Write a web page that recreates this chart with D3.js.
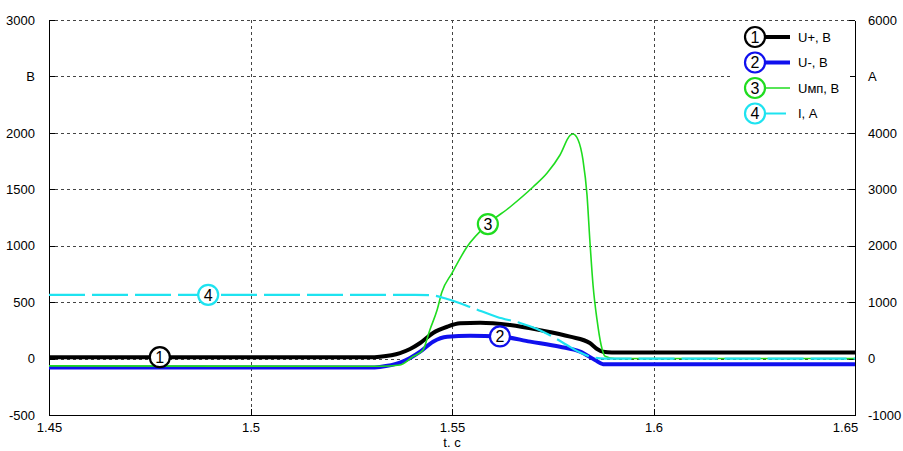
<!DOCTYPE html>
<html>
<head>
<meta charset="utf-8">
<script src="https://cdn.jsdelivr.net/npm/d3@7"></script>
<style>
  body { margin: 0; background: #fff; }
  svg text { font-family: "Liberation Sans", Arial, sans-serif; }
</style>
</head>
<body>
<svg id="chart" width="903" height="451"></svg>
<script>
// ticks
const tTicks = [1.45, 1.5, 1.55, 1.6, 1.65];
const vTicks = [-500, 0, 500, 1000, 1500, 2000, 2500, 3000];
const aTicks = [-1000, 0, 1000, 2000, 3000, 4000, 5000, 6000];

// U+, В
const uPlusT = [1.45, 1.5297, 1.5321, 1.5371, 1.5396, 1.5421, 1.5453, 1.5488, 1.552, 1.557, 1.5644, 1.5718, 1.5793, 1.5842, 1.586, 1.5875, 1.5897, 1.65];
const uPlusV = [12, 12, 17, 49, 85, 138, 227, 282, 312, 318, 297, 252, 194, 138, 85, 61, 54, 53];
// U-, В
const uMinusT = [1.45, 1.5297, 1.5321, 1.5371, 1.5396, 1.5421, 1.5453, 1.5488, 1.5545, 1.5619, 1.5694, 1.5768, 1.5818, 1.5855, 1.5875, 1.65];
const uMinusV = [-80, -80, -74, -36, 5, 61, 150, 194, 203, 196, 150, 105, 61, -13, -50, -51];
// Uмп, В
const uMpT = [1.45, 1.5321, 1.5371, 1.5403, 1.5428, 1.5445, 1.5463, 1.5475, 1.55, 1.5537, 1.5589, 1.5644, 1.5701, 1.5736, 1.5768, 1.5793, 1.58, 1.5813, 1.5825, 1.5835, 1.5842, 1.585, 1.586, 1.587, 1.588, 1.5904, 1.65];
const uMpV = [-65, -68, -57, 17, 76, 254, 430, 590, 758, 988, 1192, 1343, 1520, 1644, 1804, 1977, 1990, 1937, 1760, 1450, 1051, 650, 340, 120, 20, 0, 0];
// I, А
const iT = [1.45, 1.5408, 1.5453, 1.5488, 1.5552, 1.5612, 1.5669, 1.5711, 1.5751, 1.5785, 1.5818, 1.585, 1.588, 1.65];
const iA = [1130, 1130, 1118, 1056, 896, 737, 630, 524, 382, 240, 107, 20, 0, 0];

const legendNames = ['U+, В', 'U-, В', 'Uмп, В', 'I, А'];
// where the circled numbers sit on each curve
const markT = [1.4775, 1.5619, 1.5589, 1.4895];

const svg = d3.select('#chart');
const margin = {top: 20, right: 48, bottom: 36, left: 49};
const width = +svg.attr('width');
const height = +svg.attr('height');
const innerW = width - margin.left - margin.right;
const innerH = height - margin.top - margin.bottom;

const x = d3.scaleLinear().domain([1.45, 1.65]).range([margin.left, margin.left + innerW]);
const yV = d3.scaleLinear().domain([-500, 3000]).range([margin.top + innerH, margin.top]);
const yA = d3.scaleLinear().domain([-1000, 6000]).range([margin.top + innerH, margin.top]);

// grid
const grid = svg.append('g')
  .attr('stroke', '#444')
  .attr('stroke-width', 1)
  .attr('stroke-dasharray', '3,3')
  .attr('shape-rendering', 'crispEdges');
grid.selectAll('.hg').data(vTicks.filter(d => d > -500)).enter().append('line')
  .attr('x1', x(1.45)).attr('x2', x(1.65))
  .attr('y1', d => Math.round(yV(d)) + 0.5).attr('y2', d => Math.round(yV(d)) + 0.5);
grid.selectAll('.vg').data(tTicks.slice(1, -1)).enter().append('line')
  .attr('x1', d => Math.round(x(d)) + 0.5).attr('x2', d => Math.round(x(d)) + 0.5)
  .attr('y1', yV(3000)).attr('y2', yV(-500));

// axes
const styleAxis = g => {
  g.selectAll('text').attr('font-size', 13).attr('font-family', '"Liberation Sans", Arial, sans-serif').attr('fill', '#000');
  g.selectAll('line').attr('stroke', '#000');
  g.select('.domain').attr('stroke', '#000');
  g.attr('shape-rendering', 'crispEdges');
};

const axisV = d3.axisLeft(yV).tickValues(vTicks)
  .tickSizeInner(-6).tickSizeOuter(0).tickPadding(14)
  .tickFormat(d => d === 2500 ? 'В' : d);
svg.append('g').attr('transform', `translate(${margin.left},0)`).call(axisV).call(styleAxis);

const axisA = d3.axisRight(yA).tickValues(aTicks)
  .tickSizeInner(-6).tickSizeOuter(0).tickPadding(13)
  .tickFormat(d => d === 5000 ? 'А' : d);
svg.append('g').attr('transform', `translate(${margin.left + innerW},0)`).call(axisA).call(styleAxis);

const axisT = d3.axisBottom(x).tickValues(tTicks)
  .tickSizeInner(-6).tickSizeOuter(0).tickPadding(8)
  .tickFormat(d => d);
const tAxisG = svg.append('g').attr('transform', `translate(0,${margin.top + innerH})`).call(axisT).call(styleAxis);
// last label is pulled left so it does not run into the right axis labels
tAxisG.selectAll('.tick text').filter(d => d === 1.65).attr('dx', -10);

svg.append('text')
  .attr('x', x(1.55)).attr('y', 447)
  .attr('text-anchor', 'middle').attr('font-size', 13)
  .text('t. с');

// curves
const series = [
  {t: uPlusT, v: uPlusV, y: yV, color: '#000000', w: 4, dash: null},
  {t: uMinusT, v: uMinusV, y: yV, color: '#1010ee', w: 4, dash: null},
  {t: uMpT, v: uMpV, y: yV, color: '#1fdc1f', w: 1.6, dash: null},
  {t: iT, v: iA, y: yA, color: '#1ee3f0', w: 2.2, dash: '36,7'}
];

series.forEach(s => {
  const pts = s.t.map((t, i) => [t, s.v[i]]);
  const line = d3.line().x(d => x(d[0])).y(d => s.y(d[1])).curve(d3.curveMonotoneX);
  svg.append('path')
    .datum(pts)
    .attr('d', line)
    .attr('fill', 'none')
    .attr('stroke', s.color)
    .attr('stroke-width', s.w)
    .attr('stroke-dasharray', s.dash);
});

// circled numbers on the curves
series.forEach((s, i) => {
  const val = d3.scaleLinear().domain(s.t).range(s.v)(markT[i]);
  const g = svg.append('g').attr('transform', `translate(${x(markT[i])},${s.y(val)})`);
  g.append('circle').attr('r', 10).attr('fill', '#fff').attr('stroke', s.color).attr('stroke-width', 2.2);
  g.append('text').attr('text-anchor', 'middle').attr('dy', '0.36em').attr('font-size', 16).text(i + 1);
});

// legend
const legend = svg.append('g');
legend.append('rect').attr('x', 733).attr('y', 23).attr('width', 117).attr('height', 104).attr('fill', '#fff');
series.forEach((s, i) => {
  const cy = 37 + i * 25.5;
  legend.append('line')
    .attr('x1', 755).attr('x2', 790).attr('y1', cy).attr('y2', cy)
    .attr('stroke', s.color).attr('stroke-width', s.w)
    .attr('stroke-dasharray', s.dash ? '4,7,20' : null);
  legend.append('circle').attr('cx', 755).attr('cy', cy).attr('r', 10)
    .attr('fill', '#fff').attr('stroke', s.color).attr('stroke-width', 2.2);
  legend.append('text').attr('x', 755).attr('y', cy).attr('dy', '0.36em')
    .attr('text-anchor', 'middle').attr('font-size', 16).text(i + 1);
  legend.append('text').attr('x', 798).attr('y', cy).attr('dy', '0.36em')
    .attr('font-size', 13).text(legendNames[i]);
});
</script>
</body>
</html>
